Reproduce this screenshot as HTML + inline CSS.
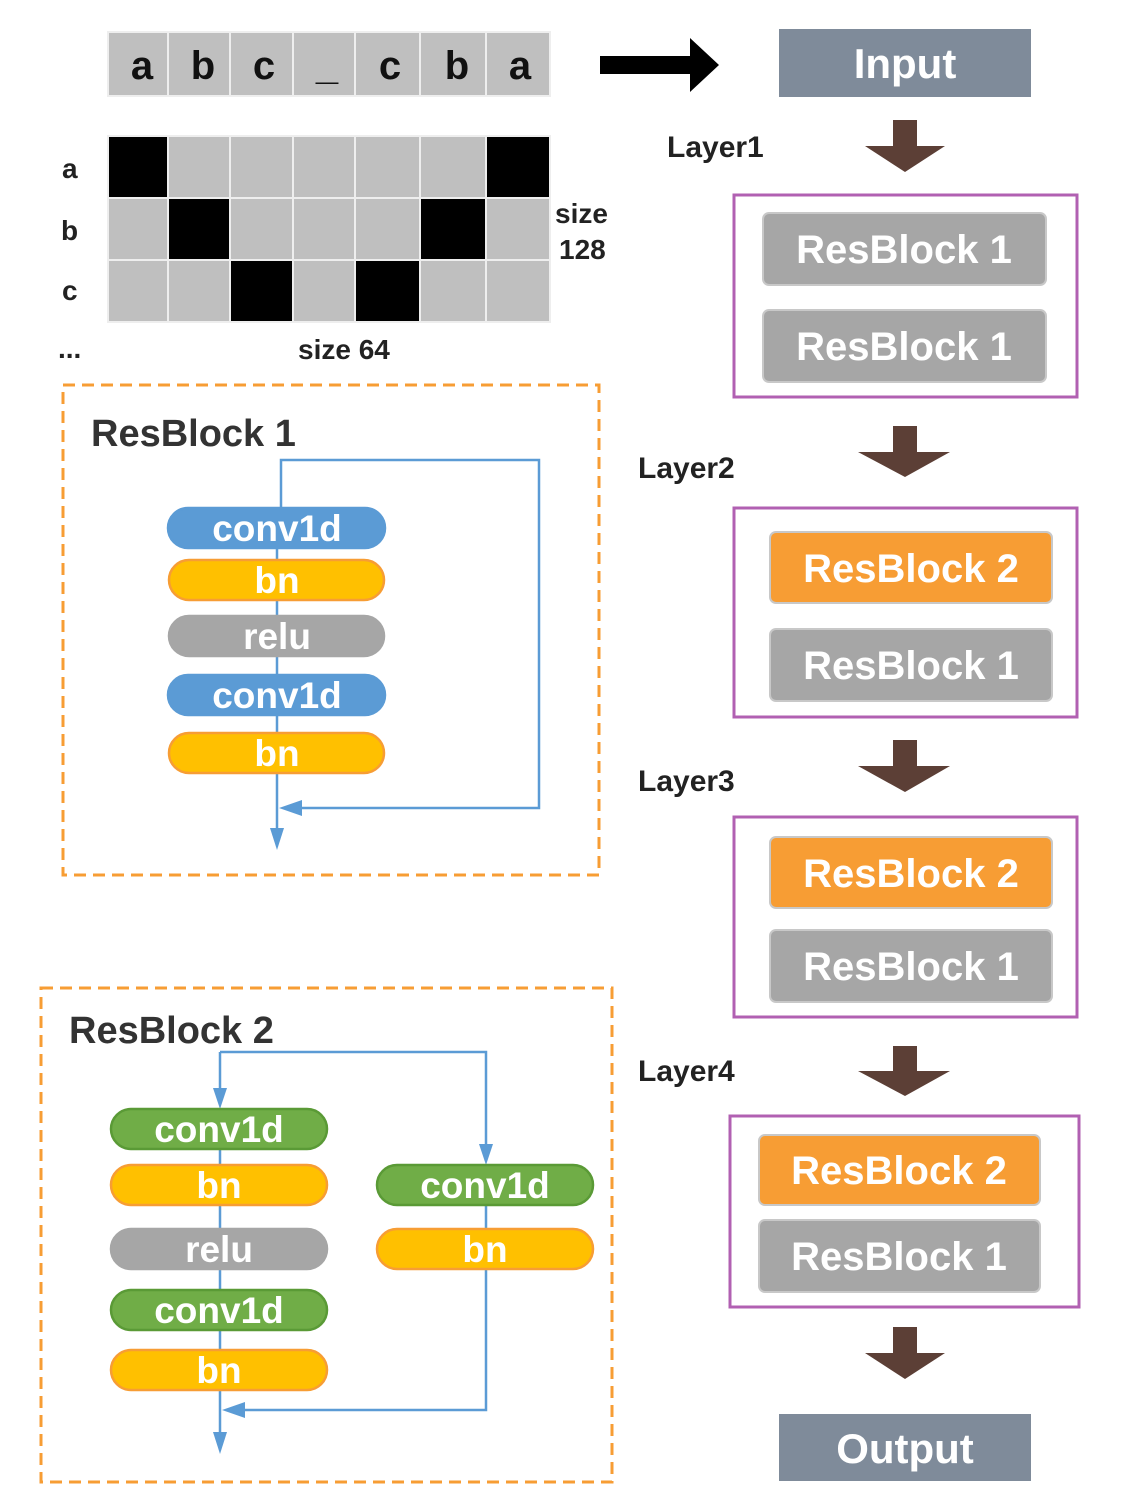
<!DOCTYPE html>
<html><head><style>body{margin:0;background:#fff}svg{display:block}text{font-family:"Liberation Sans",sans-serif;font-weight:bold}</style></head><body>
<svg width="1128" height="1512" viewBox="0 0 1128 1512">
<!-- top row -->
<g fill="#bfbfbf" stroke="#eee" stroke-width="2">
<rect x="108" y="32" width="60" height="64"/><rect x="168" y="32" width="62" height="64"/><rect x="230" y="32" width="63" height="64"/><rect x="293" y="32" width="62" height="64"/><rect x="355" y="32" width="65" height="64"/><rect x="420" y="32" width="66" height="64"/><rect x="486" y="32" width="64" height="64"/>
</g>
<g font-size="40" fill="#111" text-anchor="middle">
<text x="142" y="79">a</text><text x="203" y="79">b</text><text x="264" y="79">c</text><text x="327" y="79">_</text><text x="390" y="79">c</text><text x="457" y="79">b</text><text x="520" y="79">a</text>
</g>
<!-- grid -->
<g stroke="#eee" stroke-width="2">
<rect x="108" y="136" width="60" height="62" fill="#000"/><rect x="168" y="136" width="62" height="62" fill="#bfbfbf"/><rect x="230" y="136" width="63" height="62" fill="#bfbfbf"/><rect x="293" y="136" width="62" height="62" fill="#bfbfbf"/><rect x="355" y="136" width="65" height="62" fill="#bfbfbf"/><rect x="420" y="136" width="66" height="62" fill="#bfbfbf"/><rect x="486" y="136" width="64" height="62" fill="#000"/>
<rect x="108" y="198" width="60" height="62" fill="#bfbfbf"/><rect x="168" y="198" width="62" height="62" fill="#000"/><rect x="230" y="198" width="63" height="62" fill="#bfbfbf"/><rect x="293" y="198" width="62" height="62" fill="#bfbfbf"/><rect x="355" y="198" width="65" height="62" fill="#bfbfbf"/><rect x="420" y="198" width="66" height="62" fill="#000"/><rect x="486" y="198" width="64" height="62" fill="#bfbfbf"/>
<rect x="108" y="260" width="60" height="62" fill="#bfbfbf"/><rect x="168" y="260" width="62" height="62" fill="#bfbfbf"/><rect x="230" y="260" width="63" height="62" fill="#000"/><rect x="293" y="260" width="62" height="62" fill="#bfbfbf"/><rect x="355" y="260" width="65" height="62" fill="#000"/><rect x="420" y="260" width="66" height="62" fill="#bfbfbf"/><rect x="486" y="260" width="64" height="62" fill="#bfbfbf"/>
</g>
<g font-size="28" fill="#222">
<text x="62" y="178">a</text><text x="61" y="240">b</text><text x="62" y="300">c</text><text x="58" y="358">...</text>
<text x="555" y="223">size</text><text x="559" y="259">128</text><text x="298" y="359">size 64</text>
</g>
<!-- black arrow -->
<path d="M600,56 H690 V38 L719,65 L690,92 V74 H600 z" fill="#000"/>
<!-- right column -->
<rect x="779" y="29" width="252" height="68" fill="#7f8b9a"/>
<text x="905" y="78" font-size="42" fill="#fff" text-anchor="middle">Input</text>
<rect x="779" y="1414" width="252" height="67" fill="#7f8b9a"/>
<text x="905" y="1463" font-size="42" fill="#fff" text-anchor="middle">Output</text>
<g fill="#5c3f36">
<path d="M893,120 H917 V146 H945 L905,172 L865,146 H893 z"/>
<path d="M893,426 H917 V452 H950 L905,477 L858,452 H893 z"/>
<path d="M893,740 H917 V766 H950 L905,792 L858,766 H893 z"/>
<path d="M893,1046 H917 V1071 H950 L905,1096 L858,1071 H893 z"/>
<path d="M893,1327 H917 V1353 H945 L905,1379 L865,1353 H893 z"/>
</g>
<g font-size="30" fill="#222"><text x="667" y="157">Layer1</text><text x="638" y="478">Layer2</text><text x="638" y="791">Layer3</text><text x="638" y="1081">Layer4</text></g>
<g fill="none" stroke="#b160b2" stroke-width="3">
<rect x="734" y="195" width="343" height="202"/><rect x="734" y="508" width="343" height="209"/><rect x="734" y="817" width="343" height="200"/><rect x="730" y="1116" width="349" height="191"/>
</g>
<g stroke="#c8c8c8" stroke-width="2">
<rect x="763" y="213" width="283" height="72" rx="6" fill="#a6a6a6"/>
<rect x="763" y="310" width="283" height="72" rx="6" fill="#a6a6a6"/>
<rect x="770" y="532" width="282" height="71" rx="6" fill="#f79d34"/>
<rect x="770" y="629" width="282" height="72" rx="6" fill="#a6a6a6"/>
<rect x="770" y="837" width="282" height="71" rx="6" fill="#f79d34"/>
<rect x="770" y="930" width="282" height="72" rx="6" fill="#a6a6a6"/>
<rect x="759" y="1135" width="281" height="70" rx="6" fill="#f79d34"/>
<rect x="759" y="1220" width="281" height="72" rx="6" fill="#a6a6a6"/>
</g>
<g font-size="40" fill="#fff" text-anchor="middle">
<text x="904" y="263">ResBlock 1</text><text x="904" y="360">ResBlock 1</text>
<text x="911" y="582">ResBlock 2</text><text x="911" y="679">ResBlock 1</text>
<text x="911" y="887">ResBlock 2</text><text x="911" y="980">ResBlock 1</text>
<text x="899" y="1184">ResBlock 2</text><text x="899" y="1270">ResBlock 1</text>
</g>
<!-- ResBlock 1 -->
<rect x="63" y="385" width="536" height="490" fill="none" stroke="#f79d34" stroke-width="3" stroke-dasharray="12,7"/>
<text x="91" y="446" font-size="38" fill="#333">ResBlock 1</text>
<g stroke="#5b9bd5" stroke-width="2.5" fill="none">
<line x1="277" y1="540" x2="277" y2="830"/>
<path d="M281,508 V460 H539 V808 H295"/>
</g>
<path d="M270,828 L284,828 L277,850 z" fill="#5b9bd5"/>
<path d="M279,808 L302,800 L302,816 z" fill="#5b9bd5"/>
<g stroke-width="2.5">
<rect x="168" y="508" width="217" height="40" rx="20" fill="#5b9bd5" stroke="#5b9bd5"/>
<rect x="169" y="560" width="215" height="40" rx="20" fill="#ffc000" stroke="#f79d34"/>
<rect x="169" y="616" width="215" height="40" rx="20" fill="#a6a6a6" stroke="#a6a6a6"/>
<rect x="168" y="675" width="217" height="40" rx="20" fill="#5b9bd5" stroke="#5b9bd5"/>
<rect x="169" y="733" width="215" height="40" rx="20" fill="#ffc000" stroke="#f79d34"/>
</g>
<g font-size="37" fill="#fff" text-anchor="middle">
<text x="277" y="541">conv1d</text><text x="277" y="593">bn</text><text x="277" y="649">relu</text><text x="277" y="708">conv1d</text><text x="277" y="766">bn</text>
</g>
<!-- ResBlock 2 -->
<rect x="41" y="988" width="571" height="494" fill="none" stroke="#f79d34" stroke-width="3" stroke-dasharray="12,7"/>
<text x="69" y="1043" font-size="38" fill="#333">ResBlock 2</text>
<g stroke="#5b9bd5" stroke-width="2.5" fill="none">
<path d="M220,1052 H486 V1150"/><line x1="220" y1="1052" x2="220" y2="1090"/>
<line x1="220" y1="1140" x2="220" y2="1435"/>
<path d="M486,1200 V1410 H240"/>
</g>
<g fill="#5b9bd5">
<path d="M213,1088 L227,1088 L220,1109 z"/>
<path d="M479,1144 L493,1144 L486,1165 z"/>
<path d="M213,1432 L227,1432 L220,1454 z"/>
<path d="M222,1410 L245,1402 L245,1418 z"/>
</g>
<g stroke-width="2.5">
<rect x="111" y="1109" width="216" height="40" rx="20" fill="#70ad47" stroke="#5a9a36"/>
<rect x="111" y="1165" width="216" height="40" rx="20" fill="#ffc000" stroke="#f79d34"/>
<rect x="111" y="1229" width="216" height="40" rx="20" fill="#a6a6a6" stroke="#a6a6a6"/>
<rect x="111" y="1290" width="216" height="40" rx="20" fill="#70ad47" stroke="#5a9a36"/>
<rect x="111" y="1350" width="216" height="40" rx="20" fill="#ffc000" stroke="#f79d34"/>
<rect x="377" y="1165" width="216" height="40" rx="20" fill="#70ad47" stroke="#5a9a36"/>
<rect x="377" y="1229" width="216" height="40" rx="20" fill="#ffc000" stroke="#f79d34"/>
</g>
<g font-size="37" fill="#fff" text-anchor="middle">
<text x="219" y="1142">conv1d</text><text x="219" y="1198">bn</text><text x="219" y="1262">relu</text><text x="219" y="1323">conv1d</text><text x="219" y="1383">bn</text>
<text x="485" y="1198">conv1d</text><text x="485" y="1262">bn</text>
</g>
</svg>
</body></html>
